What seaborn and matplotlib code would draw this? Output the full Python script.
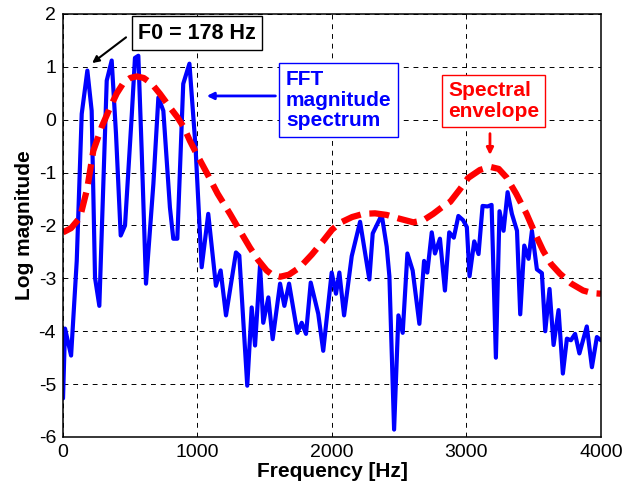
import matplotlib
matplotlib.use("Agg")
import matplotlib.pyplot as plt
import pandas as pd
import seaborn as sns

# FFT magnitude spectrum
fft_freq = [0, 15, 60, 102, 139, 181, 213, 238, 270, 325, 362, 394, 429, 461,
            511, 535, 560, 585, 617, 672, 709, 746, 795, 820, 850, 894, 940,
            985, 1031, 1080, 1137, 1172, 1212, 1286, 1311, 1370, 1403, 1428,
            1465, 1489, 1527, 1559, 1614, 1646, 1681, 1743, 1775, 1807, 1842,
            1898, 1935, 1998, 2030, 2055, 2090, 2147, 2209, 2278, 2303, 2370,
            2407, 2427, 2462, 2494, 2526, 2561, 2600, 2650, 2685, 2709, 2742,
            2766, 2803, 2840, 2872, 2906, 2940, 2975, 3003, 3023, 3058, 3090,
            3120, 3157, 3187, 3219, 3246, 3276, 3306, 3338, 3376, 3400, 3430,
            3462, 3487, 3524, 3561, 3586, 3618, 3648, 3685, 3717, 3747, 3777,
            3808, 3840, 3895, 3933, 3970, 4000]
fft_mag = [-5.27, -3.95, -4.46, -2.67, 0.11, 0.93, 0.17, -2.99, -3.52, 0.74,
           1.12, -0.27, -2.19, -2.0, 0.08, 1.17, 1.21, -0.59, -3.1, -1.21,
           0.42, 0.17, -1.66, -2.25, -2.25, 0.68, 1.06, -0.5, -2.79, -1.78,
           -3.14, -2.85, -3.7, -2.51, -2.57, -5.03, -3.55, -4.27, -2.76,
           -3.84, -3.36, -4.15, -3.1, -3.52, -3.1, -4.03, -3.84, -4.05, -3.08,
           -3.67, -4.37, -2.89, -3.29, -2.89, -3.7, -2.58, -1.93, -3.02,
           -2.15, -1.8, -2.4, -2.96, -5.86, -3.7, -4.03, -2.53, -2.85, -3.86,
           -2.67, -2.89, -2.13, -2.53, -2.25, -3.23, -2.13, -2.23, -1.82,
           -1.9, -2.03, -2.96, -2.3, -2.54, -1.63, -1.64, -1.61, -4.5, -1.73,
           -2.1, -1.37, -1.78, -2.1, -3.68, -2.38, -2.63, -2.1, -2.83, -2.9,
           -4.0, -3.2, -4.26, -3.6, -4.8, -4.14, -4.17, -4.05, -4.42, -3.91,
           -4.68, -4.11, -4.17]

# Spectral envelope
env_freq = [0, 60, 126, 180, 225, 290, 350, 400, 450, 500, 548, 600, 660,
            721, 790, 850, 900, 944, 1000, 1068, 1150, 1242, 1320, 1390, 1450,
            1514, 1560, 1614, 1680, 1762, 1850, 1935, 2000, 2059, 2150, 2233,
            2320, 2407, 2500, 2605, 2680, 2753, 2820, 2880, 2950, 3013, 3100,
            3175, 3240, 3298, 3370, 3447, 3510, 3571, 3630, 3695, 3780, 3868,
            3940, 4000]
env_mag = [-2.13, -2.05, -1.85, -1.3, -0.59, -0.12, 0.23, 0.5, 0.7, 0.79,
           0.82, 0.79, 0.68, 0.49, 0.25, 0.05, -0.15, -0.4, -0.68, -1.0,
           -1.4, -1.78, -2.12, -2.42, -2.65, -2.85, -2.94, -2.97, -2.93,
           -2.79, -2.55, -2.29, -2.08, -1.95, -1.84, -1.78, -1.77, -1.8, -1.87,
           -1.94, -1.9, -1.78, -1.65, -1.55, -1.32, -1.1, -0.95, -0.89, -0.93,
           -1.09, -1.4, -1.78, -2.15, -2.48, -2.73, -2.91, -3.1, -3.23, -3.28,
           -3.29]

fft_df = pd.DataFrame({"freq": fft_freq, "mag": fft_mag})
env_df = pd.DataFrame({"freq": env_freq, "mag": env_mag})

sns.set_style("white")
plt.rcParams["font.family"] = ["Liberation Sans", "DejaVu Sans"]
plt.rcParams["axes.unicode_minus"] = False
plt.rcParams["text.color"] = "black"
plt.rcParams["axes.labelcolor"] = "black"

fig = plt.figure(figsize=(6.24, 4.91), dpi=100)
ax = fig.add_axes([0.101, 0.110, 0.862, 0.8615])

sns.lineplot(data=fft_df, x="freq", y="mag", color="#0000ff", lw=3,
             ax=ax, sort=False)
sns.lineplot(data=env_df, x="freq", y="mag", color="#ff0000", lw=4.5,
             linestyle=(0, (3.2, 1.4)), ax=ax, sort=False)

ax.set_xlim(0, 4000)
ax.set_ylim(-6, 2)
ax.set_xticks(range(0, 4001, 1000))
ax.set_yticks(range(-6, 3))
ax.grid(True, color="black", lw=0.7, linestyle=(0, (5, 5)))
ax.tick_params(direction="in", length=4, width=1, labelsize=14,
               colors="black", pad=5)
for s in ax.spines.values():
    s.set_color("black")
    s.set_linewidth(1.1)

ax.set_xlabel("Frequency [Hz]", fontsize=15, fontweight="bold", labelpad=1)
ax.set_ylabel("Log magnitude", fontsize=15, fontweight="bold", labelpad=3)

# annotations
ax.text(996, 1.64, "F0 = 178 Hz", fontsize=15.5, fontweight="bold",
        color="black", ha="center", va="center",
        bbox=dict(boxstyle="square,pad=0.3", fc="white", ec="black", lw=1))
ax.annotate("", xy=(200, 1.04), xytext=(485, 1.59),
            arrowprops=dict(arrowstyle="-|>", color="black", lw=1.5,
                            mutation_scale=10))

ax.text(2051, 0.37, "FFT\nmagnitude\nspectrum", fontsize=15,
        fontweight="bold", color="#0000ff", ha="center", va="center",
        multialignment="left", linespacing=1.12,
        bbox=dict(boxstyle="square,pad=0.32", fc="white", ec="#0000ff", lw=1))
ax.annotate("", xy=(1048, 0.45), xytext=(1600, 0.45),
            arrowprops=dict(arrowstyle="-|>", color="#0000ff", lw=2,
                            mutation_scale=10))

ax.text(3202, 0.36, "Spectral\nenvelope", fontsize=15, fontweight="bold",
        color="#ff0000", ha="center", va="center", multialignment="left",
        linespacing=1.12,
        bbox=dict(boxstyle="square,pad=0.3", fc="white", ec="#ff0000", lw=1))
ax.annotate("", xy=(3175, -0.72), xytext=(3175, -0.21),
            arrowprops=dict(arrowstyle="-|>", color="#ff0000", lw=2,
                            mutation_scale=10))

fig.savefig("out.png", dpi=100)
